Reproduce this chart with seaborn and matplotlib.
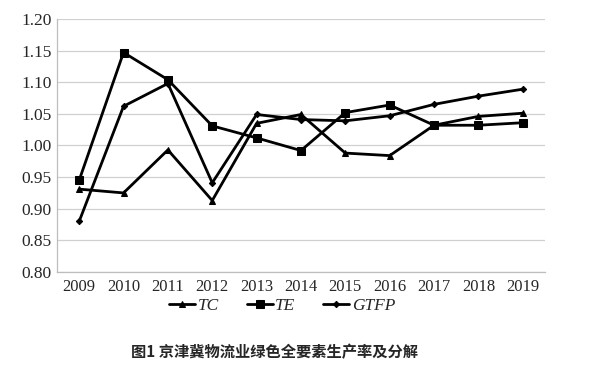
"""
Recreate the TC / TE / GTFP line chart for the Beijing-Tianjin-Hebei logistics industry.
"""

import matplotlib.pyplot as plt
import numpy as np
import pandas as pd
import seaborn as sns
from matplotlib.ticker import FixedLocator

# Data
years = [2009, 2010, 2011, 2012, 2013, 2014, 2015, 2016, 2017, 2018, 2019]
tc = [0.931, 0.925, 0.993, 0.913, 1.035, 1.049, 0.988, 0.984, 1.032, 1.046, 1.051]
te = [0.945, 1.147, 1.104, 1.031, 1.012, 0.992, 1.052, 1.064, 1.032, 1.032, 1.036]
gtfp = [0.880, 1.062, 1.098, 0.941, 1.049, 1.041, 1.039, 1.047, 1.065, 1.078, 1.089]
series_names = ['TC', 'TE', 'GTFP']
y_ticks = [0.80, 0.85, 0.90, 0.95, 1.00, 1.05, 1.10, 1.15, 1.20]
caption = '图1 京津冀物流业绿色全要素生产率及分解'


def main():
    """Draw the chart and save it as out.png."""
    sns.set_style('white')
    plt.rcParams['font.family'] = ['Liberation Serif', 'DejaVu Serif']

    fig = plt.figure(figsize=(5.9, 3.68), dpi=100)
    ax = fig.add_axes([0.0966, 0.2609, 0.827, 0.6875])

    df = pd.DataFrame({'year': years, 'TC': tc, 'TE': te, 'GTFP': gtfp})
    markers = {'TC': '^', 'TE': 's', 'GTFP': 'D'}
    sizes = {'TC': 5, 'TE': 5.5, 'GTFP': 3.2}

    for name in series_names:
        sns.lineplot(data=df, x='year', y=name, ax=ax, color='black',
                     linewidth=2.0, marker=markers[name],
                     markersize=sizes[name], markeredgecolor='black',
                     label=name, legend=False)

    ax.set_xlim(years[0] - 0.5, years[-1] + 0.5)
    ax.set_ylim(0.80, 1.20)
    ax.set_yticks(y_ticks)
    ax.set_yticklabels([f'{v:.2f}' for v in y_ticks])
    ax.set_xticks(years)
    ax.set_xticklabels([str(y) for y in years])
    ax.xaxis.set_minor_locator(FixedLocator(np.arange(years[0] - 0.5, years[-1] + 1, 1)))
    ax.tick_params(axis='x', which='major', length=0, labelsize=12, pad=5)
    ax.tick_params(axis='x', which='minor', length=5, color='#bdbdbd', width=0.8)
    ax.tick_params(axis='y', length=0, labelsize=12.5, pad=4)
    ax.set_xlabel('')
    ax.set_ylabel('')

    ax.yaxis.grid(True, color='#d0d0d0', linewidth=0.9)
    ax.set_axisbelow(True)
    for side in ['top', 'right']:
        ax.spines[side].set_visible(False)
    for side in ['left', 'bottom']:
        ax.spines[side].set_color('#bdbdbd')
        ax.spines[side].set_linewidth(0.9)

    handles, labels = ax.get_legend_handles_labels()
    fig.legend(handles, labels, loc='center', bbox_to_anchor=(0.478, 0.168),
               ncol=3, frameon=False, handlelength=1.5, columnspacing=1.6,
               handletextpad=0.15, borderpad=0.2,
               prop={'family': 'Liberation Serif', 'style': 'italic',
                     'size': 12.5})

    fig.text(0.466, 0.043, caption, ha='center', va='center', fontsize=11,
             fontweight='bold', family=['Noto Sans CJK SC', 'DejaVu Sans'])

    fig.savefig('out.png', dpi=100)


if __name__ == '__main__':
    main()
